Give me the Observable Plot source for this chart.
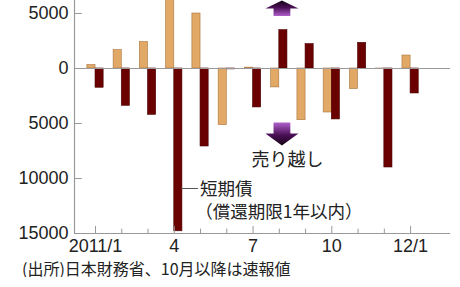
<!DOCTYPE html>
<html><head><meta charset="utf-8">
<script src="https://cdn.jsdelivr.net/npm/d3@7"></script>
<script src="https://cdn.jsdelivr.net/npm/@observablehq/plot@0.6"></script>
<style>
body{margin:0;background:#fff;}
#chart{width:460px;height:259px;}
.cap{font-family:"Noto Sans CJK JP","Liberation Sans",sans-serif;font-size:16px;line-height:18px;color:#222;padding-left:22px;white-space:nowrap;}
</style></head><body>
<div id="chart"></div>
<div class="cap">(出所)日本財務省、10月以降は速報値</div>
<script>
// months 2011/1 .. 2012/1 as index
const months = [0,1,2,3,4,5,6,7,8,9,10,11,12];
const tickMonths = [0,3,6,9,12];
const tickLabels = ["2011/1","4","7","10","12/1"];
// 中長期債 (tan) and 短期債 (maroon), 億円 ; positive = 買い越し, negative = 売り越し
const longTerm  = [310, 1670, 2400, 6500, 5000, -5150, 80, -1720, -4700, -4000, -1870, -60, 1180];
const shortTerm = [-1750, -3390, -4210, -14800, -7090, -80, -3540, 3490, 2220, -4630, 2330, -9000, -2270];
const yTicks = [5000, 0, -5000, -10000, -15000];

const xDom = [-0.8, 13.52];
const yDom = [-15000, 6182];

const bars = [];
months.forEach((m,i)=>{
  bars.push({x1:m-0.31, x2:m, y:longTerm[i], s:"long"});
  bars.push({x1:m, x2:m+0.31, y:shortTerm[i], s:"short"});
});

// arrow annotation shapes (data units)
const cx = 7.1, hh = 0.63, sh = 0.32;
const upArrow = [[cx-hh,5455],[cx,6182],[cx+hh,5455],[cx+sh,5455],[cx+sh,4770],[cx-sh,4770],[cx-sh,5455],[cx-hh,5455]];
const downArrow = [[cx-sh,-4909],[cx+sh,-4909],[cx+sh,-5909],[cx+hh,-5909],[cx,-7000],[cx-hh,-5909],[cx-sh,-5909],[cx-sh,-4909]];

const FONT = '"Liberation Sans","Noto Sans CJK JP",sans-serif';
const JFONT = '"Noto Sans CJK JP",sans-serif';

const plot = Plot.plot({
  width: 460, height: 259,
  marginLeft: 74, marginRight: 10, marginTop: 0, marginBottom: 26,
  style: {fontFamily: FONT, fontSize: "18px", color: "#222", background: "#fff"},
  x: {type: "linear", domain: xDom, axis: null},
  y: {domain: yDom, axis: null},
  marks: [
    Plot.rectY(bars, {x1:"x1", x2:"x2", y:"y", clip:true,
      fill: d => d.s==="long" ? "#E2A865" : "#6B0000",
      stroke: d => d.s==="long" ? "#A8743C" : "#4A0000", strokeWidth: 0.6}),
    Plot.ruleY([0], {x1: xDom[0], x2: xDom[1], stroke:"#999", strokeWidth:1}),
    // y axis
    Plot.ruleX([xDom[0]], {y1: yDom[0], y2: yDom[1], stroke:"#999", strokeWidth:1.2}),
    Plot.ruleY(yTicks.filter(d=>d!==0 && d!==-15000), {x1: xDom[0], x2: xDom[0]+0.3, stroke:"#999", strokeWidth:1}),
    Plot.text(yTicks, {x: xDom[0], y: d=>d, text: d=>String(Math.abs(d)), textAnchor:"end", dx:-6, fontSize:18, fill:"#222"}),
    // x axis
    Plot.ruleY([yDom[0]], {x1: xDom[0], x2: xDom[1], stroke:"#999", strokeWidth:1.2}),
    Plot.ruleX(months, {y1: yDom[0], y2: d => yDom[0] + (tickMonths.includes(d) ? 640 : 400), stroke:"#999", strokeWidth:1}),
    Plot.text(tickMonths, {x: d=>d, y: yDom[0], text: (d,i)=>tickLabels[i], lineAnchor:"top", dy:6, fontSize:18, fill:"#222"}),
    // arrows
    Plot.line(upArrow, {x: d=>d[0], y: d=>d[1], fill:"url(#gUp)", stroke:"none"}),
    Plot.line(downArrow, {x: d=>d[0], y: d=>d[1], fill:"url(#gDown)", stroke:"none"}),
    Plot.text(["売り越し"], {x: 7.31, y: -8364, text: d=>d, fontSize:18, fontFamily: JFONT, fill:"#222"}),
    // short-term label
    Plot.ruleY([-10910], {x1: 3.28, x2: 3.92, stroke:"#555", strokeWidth:1}),
    Plot.text(["短期債"], {x: 3.98, y: -10950, text: d=>d, textAnchor:"start", fontSize:17.5, fontFamily: JFONT, fill:"#222"}),
    Plot.text(["（償還期限1年以内）"], {x: 3.8, y: -13100, text: d=>d, textAnchor:"start", fontSize:17.5, fontFamily: JFONT, fill:"#222"})
  ]
});

const svgSel = d3.select(plot);
const defs = svgSel.insert("defs", ":first-child");
const gu = defs.append("linearGradient").attr("id","gUp").attr("x1",0).attr("y1",0).attr("x2",0).attr("y2",1);
gu.append("stop").attr("offset","0%").attr("stop-color","#140514");
gu.append("stop").attr("offset","45%").attr("stop-color","#4a0f55");
gu.append("stop").attr("offset","100%").attr("stop-color","#b060cc");
const gd = defs.append("linearGradient").attr("id","gDown").attr("x1",0).attr("y1",0).attr("x2",0).attr("y2",1);
gd.append("stop").attr("offset","0%").attr("stop-color","#b060cc");
gd.append("stop").attr("offset","55%").attr("stop-color","#4a0f55");
gd.append("stop").attr("offset","100%").attr("stop-color","#140514");

document.getElementById("chart").appendChild(plot);
</script>
</body></html>
